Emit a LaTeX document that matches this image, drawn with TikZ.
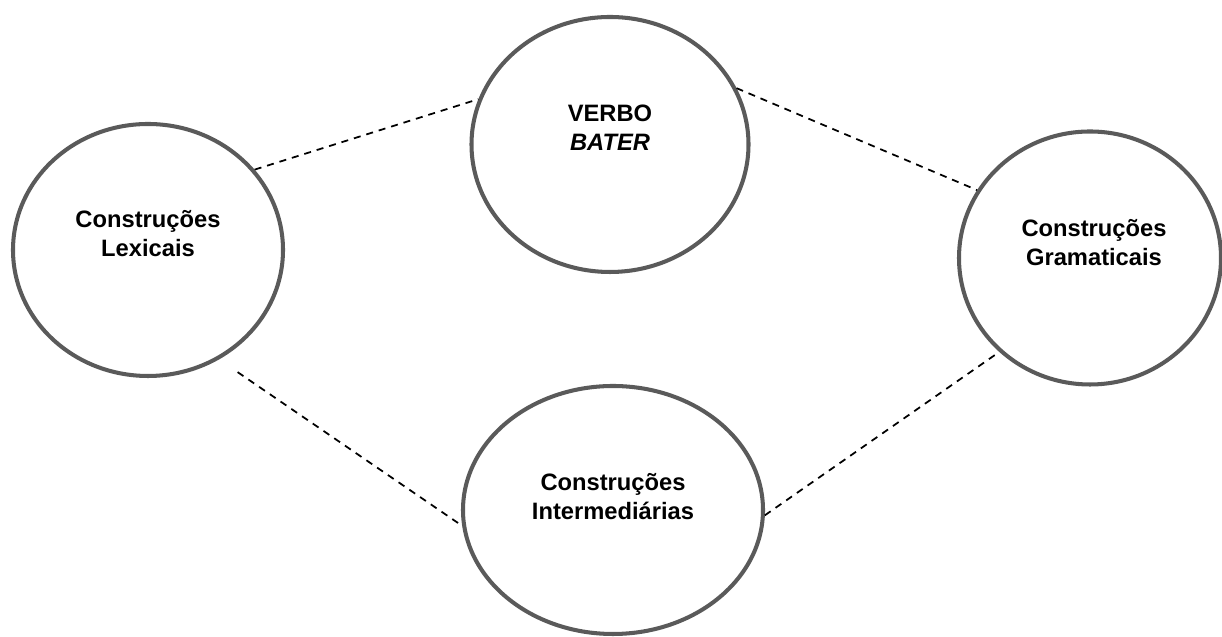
\documentclass[tikz,border=0pt]{standalone}
\usepackage{fontspec}
\setmainfont{Liberation Sans}
\usepackage{tikz}
\usetikzlibrary{shapes.geometric}
\definecolor{blobgray}{RGB}{90,90,90}
\tikzset{
  blob/.style={ellipse, draw=blobgray, line width=2.3pt, inner sep=0pt},
  blobtext/.style={font=\bfseries\fontsize{13.5}{16.5}\selectfont, align=center},
  dashline/.style={dash pattern=on 4pt off 3.4pt, line width=1pt, black},
}

\begin{document}
\begin{tikzpicture}
  \useasboundingbox (0,0) rectangle (24.44,12.74);

  \node[blob, minimum width=5.54cm, minimum height=5.1cm,
    label={[blobtext, yshift=0.33cm]center:VERBO\\\textit{BATER}}] (verbo) at (12.2,9.85) {};
  \node[blob, minimum width=5.40cm, minimum height=5.04cm,
    label={[blobtext, yshift=0.32cm]center:Construções\\Lexicais}] (lex) at (2.96,7.74) {};
  \node[blob, minimum width=5.24cm, minimum height=5.06cm,
    label={[blobtext, yshift=0.3cm, xshift=0.08cm]center:Construções\\Gramaticais}] (gram) at (21.8,7.58) {};
  \node[blob, minimum width=6.0cm, minimum height=4.96cm,
    label={[blobtext, yshift=0.26cm]center:Construções\\Intermediárias}] (inter) at (12.26,2.54) {};

  % links
  \draw[dashline] (lex.37) -- (verbo.161);
  \draw[dashline] (verbo.24) -- (gram.149);
  \draw[dashline, shorten <=0.45cm] (lex.-57) -- (inter.186);
  \draw[dashline] (inter.-2) -- (gram.226);
\end{tikzpicture}
\end{document}
